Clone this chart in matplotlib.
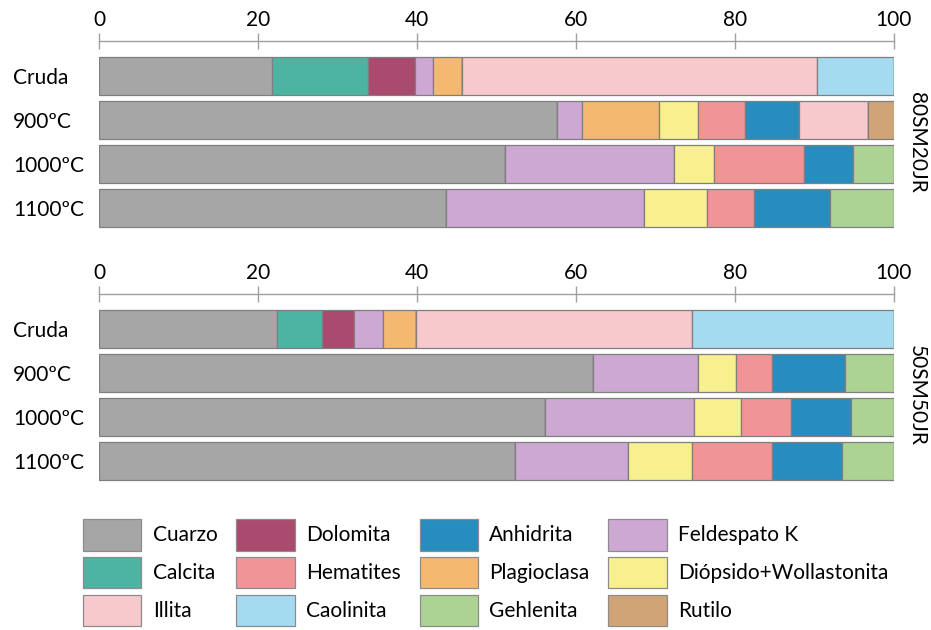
import numpy as np
import matplotlib.pyplot as plt
from matplotlib.patches import Patch
from matplotlib.transforms import blended_transform_factory

plt.rcParams['font.family'] = ['Lato', 'DejaVu Sans']
plt.rcParams['font.size'] = 15

samples = ["Cruda", "900ºC", "1000ºC", "1100ºC"]

minerals = ["Cuarzo", "Calcita", "Dolomita", "Feldespato K", "Plagioclasa",
            "Diópsido+Wollastonita", "Hematites", "Anhidrita", "Illita",
            "Caolinita", "Gehlenita", "Rutilo"]

colors = {
    "Cuarzo": "#a6a6a6",
    "Calcita": "#4db3a2",
    "Dolomita": "#a94a6e",
    "Feldespato K": "#cda8d2",
    "Plagioclasa": "#f5b870",
    "Diópsido+Wollastonita": "#f8f08e",
    "Hematites": "#f09497",
    "Anhidrita": "#268dbe",
    "Illita": "#f7c9cc",
    "Caolinita": "#a4dbf0",
    "Gehlenita": "#acd294",
    "Rutilo": "#d1a477",
}

# % of each phase per sample (Cruda, 900, 1000, 1100)
m80_cuarzo = [21.8, 57.6, 51.1, 43.6]
m80_calcita = [12.1, 0, 0, 0]
m80_dolomita = [5.8, 0, 0, 0]
m80_feldespato = [2.3, 3.1, 21.2, 25.0]
m80_plagioclasa = [3.7, 9.8, 0, 0]
m80_diopsido = [0, 4.9, 5.1, 7.9]
m80_hematites = [0, 5.9, 11.3, 5.9]
m80_anhidrita = [0, 6.8, 6.2, 9.6]
m80_illita = [44.6, 8.6, 0, 0]
m80_caolinita = [9.7, 0, 0, 0]
m80_gehlenita = [0, 0, 5.1, 8.0]
m80_rutilo = [0, 3.3, 0, 0]

m50_cuarzo = [22.4, 62.2, 56.1, 52.3]
m50_calcita = [5.6, 0, 0, 0]
m50_dolomita = [4.1, 0, 0, 0]
m50_feldespato = [3.6, 13.1, 18.8, 14.3]
m50_plagioclasa = [4.2, 0, 0, 0]
m50_diopsido = [0, 4.8, 5.8, 8.0]
m50_hematites = [0, 4.6, 6.4, 10.1]
m50_anhidrita = [0, 9.2, 7.5, 8.8]
m50_illita = [34.7, 0, 0, 0]
m50_caolinita = [25.4, 0, 0, 0]
m50_gehlenita = [0, 6.1, 5.4, 6.5]
m50_rutilo = [0, 0, 0, 0]

mix80 = [m80_cuarzo, m80_calcita, m80_dolomita, m80_feldespato, m80_plagioclasa,
         m80_diopsido, m80_hematites, m80_anhidrita, m80_illita, m80_caolinita,
         m80_gehlenita, m80_rutilo]
mix50 = [m50_cuarzo, m50_calcita, m50_dolomita, m50_feldespato, m50_plagioclasa,
         m50_diopsido, m50_hematites, m50_anhidrita, m50_illita, m50_caolinita,
         m50_gehlenita, m50_rutilo]

fig = plt.figure(figsize=(9.31, 6.30), dpi=100)
ax1 = fig.add_axes([0.1063, 0.6349, 0.8539, 0.30])
ax2 = fig.add_axes([0.1063, 0.2333, 0.8539, 0.30])


def draw_panel(ax, data, name):
    y = np.arange(len(samples))
    left = np.zeros(len(samples))
    for mineral, vals in zip(minerals, data):
        vals = np.array(vals, dtype=float)
        ax.barh(y, vals, left=left, height=0.865, color=colors[mineral],
                edgecolor="#7f7f7f", linewidth=0.9)
        left += vals
    ax.set_xlim(0, 100)
    ax.set_ylim(3.5, -0.795)
    ax.set_yticks(y)
    ax.set_yticklabels(samples, ha='left')
    ax.set_xticks([0, 20, 40, 60, 80, 100])
    ax.xaxis.tick_top()
    ax.tick_params(axis='x', direction='inout', length=12, width=1,
                   color="#a0a0a0", pad=2)
    # left-aligned sample names, starting near the figure edge
    ax.tick_params(axis='y', length=0, pad=62)
    for s in ["left", "right", "bottom"]:
        ax.spines[s].set_visible(False)
    ax.spines["top"].set_color("#a0a0a0")
    ax.spines["top"].set_linewidth(1)
    tr = blended_transform_factory(ax.transAxes, ax.transData)
    ax.text(1.029, 1.5, name, transform=tr, rotation=270,
            ha='center', va='center')


draw_panel(ax1, mix80, "80SM20JR")
draw_panel(ax2, mix50, "50SM50JR")

legend_order = ["Cuarzo", "Calcita", "Illita",
                "Dolomita", "Hematites", "Caolinita",
                "Anhidrita", "Plagioclasa", "Gehlenita",
                "Feldespato K", "Diópsido+Wollastonita", "Rutilo"]
handles = [Patch(facecolor=colors[m], edgecolor="#8c8c8c", linewidth=0.9)
           for m in legend_order]
fig.legend(handles, legend_order, ncol=4, loc='upper left',
           bbox_to_anchor=(83 / 931, 1 - 519 / 630), frameon=False,
           borderpad=0, borderaxespad=0, handlelength=2.8, handleheight=1.95,
           handletextpad=0.55, labelspacing=0.3, columnspacing=0.9)

fig.savefig("out.png", dpi=100)
